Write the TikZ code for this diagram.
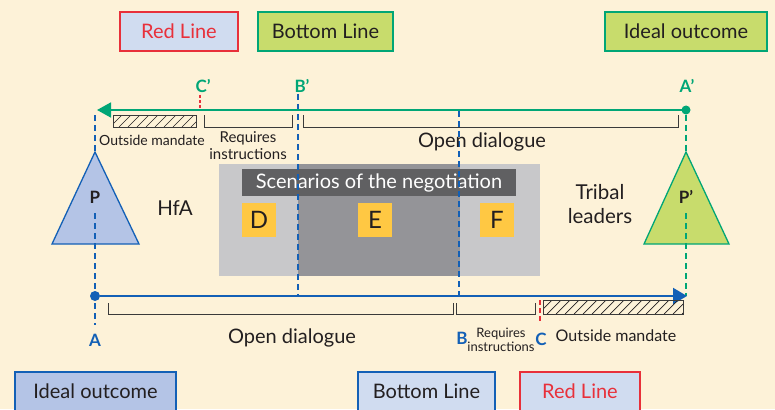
\documentclass[tikz,border=0pt]{standalone}
\usepackage{fontspec}
\setmainfont{Lato}
\usetikzlibrary{arrows.meta}
\definecolor{bg}{HTML}{FDF2D8}
\definecolor{nblue}{HTML}{1360B6}
\definecolor{ngreen}{HTML}{00A676}
\definecolor{nred}{HTML}{E8303A}
\definecolor{lblue}{HTML}{D0DCF0}
\definecolor{mblue}{HTML}{B4C4E6}
\definecolor{lgreen}{HTML}{C8DC6C}
\definecolor{nyellow}{HTML}{FFC843}
\definecolor{lgray}{HTML}{C8C8CA}
\definecolor{dgray}{HTML}{949498}
\definecolor{tgray}{HTML}{606062}
\definecolor{ink}{HTML}{231F20}
\definecolor{brk}{HTML}{3A3A3A}
\newcommand{\fs}[1]{\fontsize{#1}{#1}\selectfont}
\begin{document}
\begin{tikzpicture}[x=1pt,y=-1pt,
  every node/.style={inner sep=0pt,outer sep=0pt,text=ink},
  legbox/.style={draw,line width=1.6pt,minimum height=39pt,font=\fs{20}},
  lab/.style={font=\fs{17}\bfseries},
  dsh/.style={line width=1.5pt,dash pattern=on 6pt off 4pt},
  brack/.style={draw=brk,line width=0.9pt},
  hatch/.style={draw=ink,line width=0.7pt},
  txt/.style={font=\fs{20.5}},
  letterbox/.style={fill=nyellow,minimum width=34pt,minimum height=34pt,font=\fs{24}}]
\useasboundingbox[fill=bg] (0,0) rectangle (775,409);

% legend boxes top
\node[legbox,draw=nred,fill=lblue,minimum width=118pt,text=nred] (rlt) at (179,31.5) {Red Line};
\node[legbox,draw=ngreen,fill=lgreen,minimum width=135pt] (blt) at (325.5,31.5) {Bottom Line};
\node[legbox,draw=ngreen,fill=lgreen,minimum width=162pt] (iot) at (686,31.5) {Ideal outcome};
% legend boxes bottom
\node[legbox,draw=nblue,fill=mblue,minimum width=161pt] (iob) at (95.5,391.5) {Ideal outcome};
\node[legbox,draw=nblue,fill=lblue,minimum width=137pt] (blb) at (426.5,391.5) {Bottom Line};
\node[legbox,draw=nred,fill=lblue,minimum width=120pt,text=nred] (rlb) at (580,391.5) {Red Line};

% scenarios
\node[fill=lgray,minimum width=321pt,minimum height=112pt] (scen) at (379.5,220) {};
\node[fill=dgray,minimum width=162pt,minimum height=112pt] (mid) at (379,220) {};
\node[fill=tgray,minimum width=274pt,minimum height=27pt,font=\fs{20},text=white] (title) at (379,182.5) {Scenarios of the negotiation};
\node[letterbox] (D) at (259,220) {D};
\node[letterbox] (E) at (375,220) {E};
\node[letterbox] (F) at (497,220) {F};

% side labels
\node[txt] (hfa) at (175,208) {HfA};
\node[txt,align=center] (tribal) at (600,204) {Tribal\\[3pt]leaders};

% points and lines
\coordinate (Atop) at (95,115);
\coordinate (Abot) at (95,325);
\coordinate (gend) at (97,110);
\coordinate (bend) at (687,296);
\node[circle,fill=ngreen,minimum size=9pt] (Ap) at (686,110) {};
\node[circle,fill=nblue,minimum size=10pt] (A) at (95,296) {};

% vertical dashed lines
\draw[dsh,draw=nblue] (298,94) -- (298,296);
\draw[dsh,draw=nblue] (459,111) -- (459,296);
\draw[draw=nred,line width=1.2pt,dash pattern=on 3pt off 2pt] (200,95) -- (200,110);
\draw[draw=nred,line width=1.2pt,dash pattern=on 5pt off 3pt] (540,300) -- (540,323);
\draw[dsh,draw=nblue] (Atop) -- (95,152);
\draw[dsh,draw=nblue] (95,213) -- (Abot);
\draw[dsh,draw=ngreen] (Ap) -- (686,152);
\draw[dsh,draw=ngreen] (686,213) -- (686,296);

% triangles
\draw[draw=nblue,fill=mblue,line width=1.3pt,line join=miter] (95,152) -- (139,244) -- (52,244) -- cycle;
\draw[draw=ngreen,fill=lgreen,line width=1.3pt,line join=miter] (686,152) -- (729,244) -- (644,244) -- cycle;
\draw[dsh,draw=nblue] (95,213) -- (95,244);
\draw[dsh,draw=ngreen] (686,213) -- (686,244);
\node[font=\fs{17}\bfseries] (P) at (95,197) {P};
\node[font=\fs{17}\bfseries] (Pp) at (686,197) {P’};

% main arrows
\draw[draw=ngreen,line width=1.8pt,-{Triangle[length=14pt,width=15pt]}] (Ap) -- (gend);
\draw[draw=nblue,line width=2pt,-{Triangle[length=14pt,width=16pt]}] (A) -- (bend);

% top brackets
\begin{scope}
\clip (113,115) rectangle (196,127);
\foreach \i in {0,9,...,100} \draw[hatch] (113+\i-12,127) -- ++(12,-12);
\end{scope}
\draw[brk,line width=0.9pt] (113,115) rectangle (196,127);
\draw[brack] (204,115) -- (204,127) -- (292,127) -- (292,115);
\draw[brack] (303,115) -- (303,127) -- (678,127) -- (678,115);

% bottom brackets
\draw[brack] (108,303) -- (108,314) -- (453,314) -- (453,303);
\draw[brack] (456,303) -- (456,314) -- (535,314) -- (535,303);
\begin{scope}
\clip (543,300) rectangle (683,314);
\foreach \i in {0,9,...,160} \draw[hatch] (543+\i-14,314) -- ++(14,-14);
\end{scope}
\draw[brk,line width=0.9pt] (543,300) rectangle (683,314);

% point labels
\node[lab,text=ngreen] (Cpl) at (203,86) {C’};
\node[lab,text=ngreen] (Bpl) at (302,86) {B’};
\node[lab,text=ngreen] (Apl) at (687,86) {A’};
\node[lab,text=nblue] (Al) at (95,340) {A};
\node[lab,text=nblue] (Bl) at (462,338) {B};
\node[lab,text=nblue] (Cl) at (541,339) {C};

% range labels top
\node[font=\fs{14}] (om1) at (152,140) {Outside mandate};
\node[font=\fs{15},align=center] (ri1) at (248,146) {Requires\\[2pt]instructions};
\node[font=\fs{13},align=center] (ri2) at (501,340) {Requires\\[1pt]instructions};
\node[font=\fs{20}] (od1) at (482,142) {Open dialogue};
% range labels bottom
\node[font=\fs{20}] (od2) at (292,338) {Open dialogue};
\node[font=\fs{16}] (om2) at (616,336) {Outside mandate};
\end{tikzpicture}
\end{document}
